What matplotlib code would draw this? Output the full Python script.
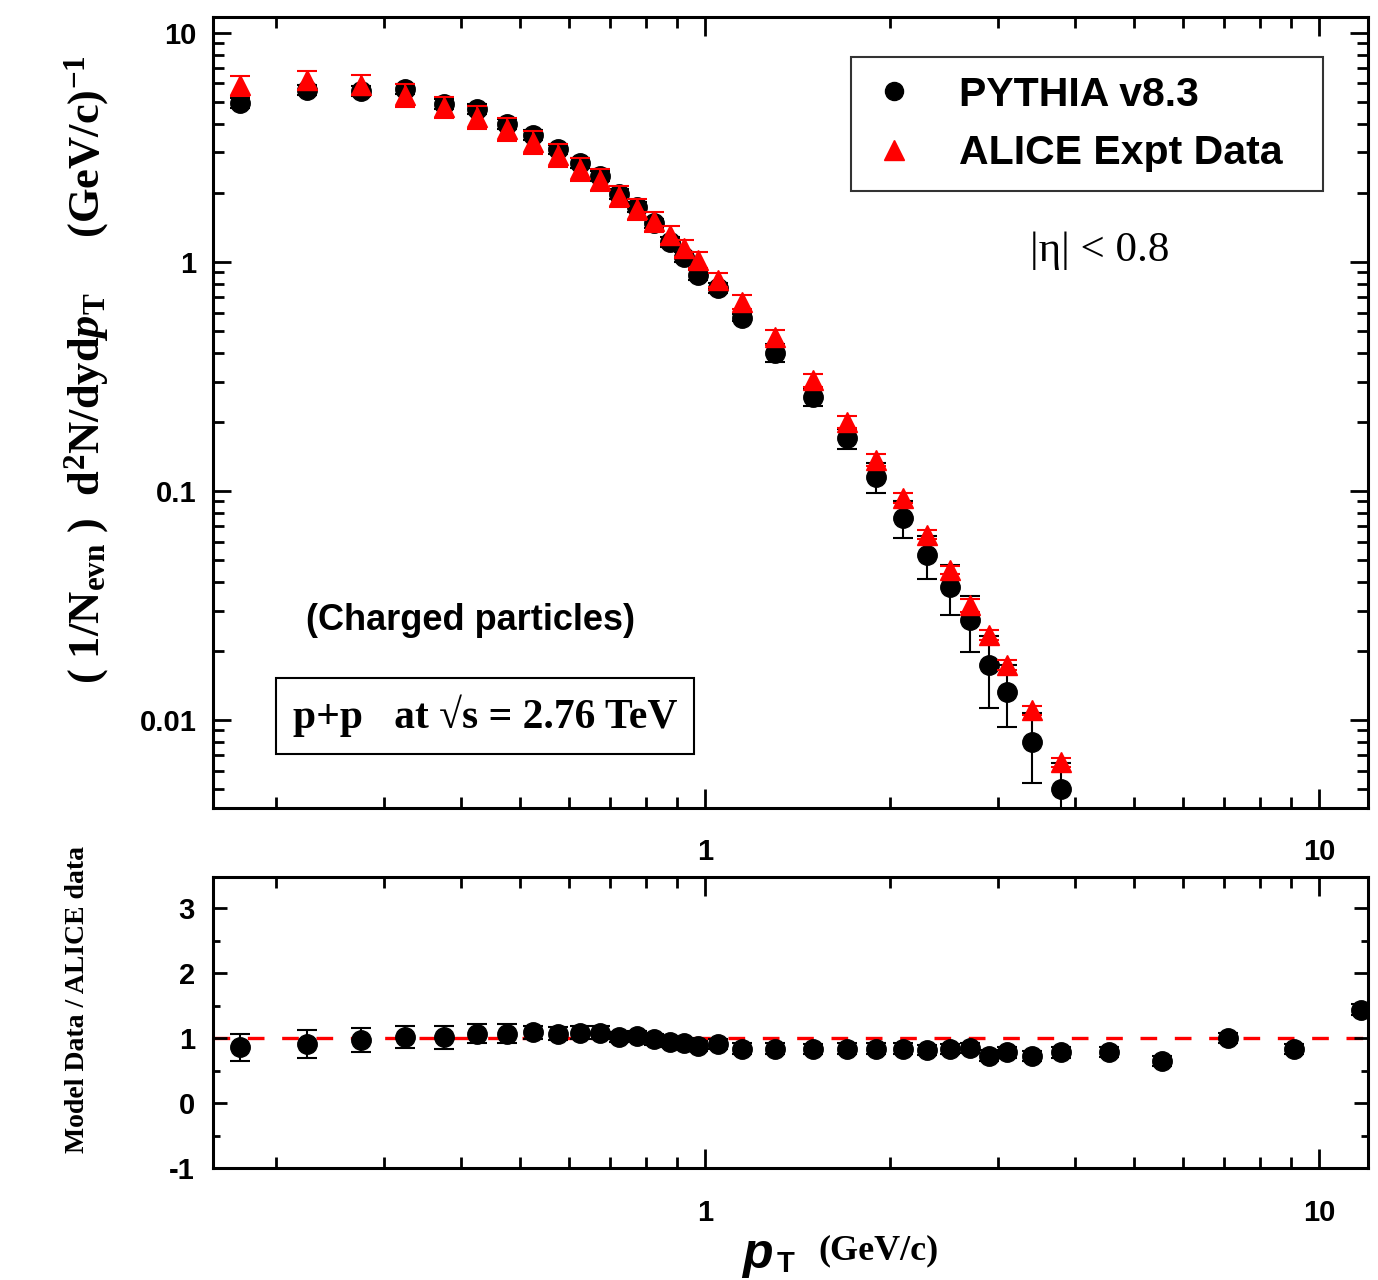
import matplotlib
matplotlib.use("Agg")
import matplotlib.pyplot as plt
import matplotlib.ticker as mticker
from matplotlib.lines import Line2D

plt.rcParams['axes.unicode_minus'] = False
plt.rcParams['mathtext.fontset'] = 'custom'
plt.rcParams['mathtext.rm'] = 'Liberation Serif:bold'
plt.rcParams['mathtext.it'] = 'Liberation Serif:bold:italic'
plt.rcParams['mathtext.bf'] = 'Liberation Serif:bold'

# pT bins (GeV/c)
pt = [0.175, 0.225, 0.275, 0.325, 0.375, 0.425, 0.475, 0.525, 0.575, 0.625,
      0.675, 0.725, 0.775, 0.825, 0.875, 0.925, 0.975, 1.05, 1.15, 1.3,
      1.5, 1.7, 1.9, 2.1, 2.3, 2.5, 2.7, 2.9, 3.1, 3.4, 3.8]

# PYTHIA v8.3 spectrum
pythia = [4.95, 5.6, 5.55, 5.68, 4.90, 4.66, 4.00, 3.59, 3.09, 2.71,
          2.37, 1.98, 1.74, 1.47, 1.22, 1.05, 0.877, 0.770, 0.570, 0.401,
          0.257, 0.170, 0.115, 0.0764, 0.0524, 0.0381, 0.0273, 0.0173, 0.0133, 0.0080, 0.0050]
pythia_err = [0.25, 0.28, 0.28, 0.28, 0.25, 0.23, 0.20, 0.18, 0.15, 0.14,
              0.12, 0.10, 0.09, 0.07, 0.06, 0.05, 0.045, 0.04, 0.02, 0.035,
              0.022, 0.017, 0.017, 0.014, 0.011, 0.0094, 0.0076, 0.006, 0.004, 0.0027, 0.0015]

# ALICE data
alice = [5.9, 6.23, 5.93, 5.36, 4.75, 4.30, 3.81, 3.34, 2.93, 2.55,
         2.28, 1.94, 1.70, 1.50, 1.31, 1.15, 1.02, 0.834, 0.669, 0.470,
         0.305, 0.200, 0.137, 0.0932, 0.0644, 0.0452, 0.0317, 0.0235, 0.0174, 0.0110, 0.00655]
alice_err = [0.6, 0.6, 0.6, 0.6, 0.5, 0.5, 0.45, 0.4, 0.35, 0.3,
             0.25, 0.2, 0.18, 0.15, 0.12, 0.1, 0.08, 0.06, 0.05, 0.035,
             0.02, 0.012, 0.008, 0.005, 0.003, 0.002, 0.002, 0.0012, 0.0008, 0.0005, 0.0003]

# ratio panel
ratio_pt = pt + [4.55, 5.55, 7.1, 9.1, 11.7]
ratio = [0.86, 0.91, 0.97, 1.02, 1.01, 1.07, 1.07, 1.09, 1.07, 1.08,
         1.08, 1.02, 1.03, 0.98, 0.94, 0.92, 0.88, 0.91, 0.84, 0.84,
         0.83, 0.84, 0.84, 0.84, 0.82, 0.83, 0.85, 0.73, 0.78, 0.72,
         0.78, 0.79, 0.65, 1.0, 0.83, 1.44]
ratio_err = [0.21, 0.21, 0.19, 0.17, 0.17, 0.15, 0.14, 0.1, 0.1, 0.1,
             0.1, 0.08, 0.08, 0.08, 0.08, 0.08, 0.08, 0.08, 0.08, 0.08,
             0.08, 0.08, 0.08, 0.08, 0.08, 0.08, 0.08, 0.08, 0.08, 0.08,
             0.08, 0.08, 0.08, 0.08, 0.08, 0.08]

sans = ['Liberation Sans', 'DejaVu Sans']
serif = ['Liberation Serif', 'DejaVu Serif']

fig = plt.figure(figsize=(13.78, 12.8), dpi=100)
ax1 = fig.add_axes([0.1546, 0.3688, 0.8381, 0.6179])
ax2 = fig.add_axes([0.1546, 0.0875, 0.8381, 0.2273])

# top panel
ax1.errorbar(pt, pythia, yerr=pythia_err, fmt='o', color='black', ms=14,
             elinewidth=1.5, capsize=7, capthick=1.5, zorder=2)
eb = ax1.errorbar(pt, alice, yerr=alice_err, fmt='^', color='red', ms=15,
                  ecolor='red', elinewidth=1.5, capsize=7, capthick=1.5, zorder=3)
for cl in eb[1]:
    cl.set_color('black')
    cl.set_zorder(4)

ax1.set_xscale('log')
ax1.set_yscale('log')
ax1.set_xlim(0.158, 12.0)
ax1.set_ylim(0.00413, 11.7)

# bottom panel
ax2.axhline(1, color='red', lw=2.4, dashes=(5, 5.3), zorder=1)
ax2.errorbar(ratio_pt, ratio, yerr=ratio_err, fmt='o', color='black', ms=14,
             elinewidth=1.5, capsize=7, capthick=1.5, zorder=2)
ax2.set_xscale('log')
ax2.set_xlim(0.158, 12.0)
ax2.set_ylim(-1, 3.48)
ax2.yaxis.set_major_locator(mticker.MultipleLocator(1))
ax2.yaxis.set_minor_locator(mticker.MultipleLocator(0.5))

fmt = mticker.FuncFormatter(lambda v, p: '%g' % v)
for ax in (ax1, ax2):
    ax.xaxis.set_major_formatter(fmt)
    ax.xaxis.set_minor_formatter(mticker.NullFormatter())
    for sp in ax.spines.values():
        sp.set_linewidth(2.2)
    ax.tick_params(which='both', direction='in', top=True, right=True, width=2)
    ax.tick_params(axis='x', which='major', length=14, pad=22)
    ax.tick_params(axis='x', which='minor', length=8)
    for lab in ax.get_xticklabels() + ax.get_yticklabels():
        lab.set_fontfamily(sans)
        lab.set_fontweight('bold')
        lab.set_fontsize(21)

ax1.yaxis.set_major_formatter(fmt)
ax1.yaxis.set_minor_formatter(mticker.NullFormatter())
ax1.tick_params(axis='y', which='major', length=13, pad=12)
ax1.tick_params(axis='y', which='minor', length=8)
ax2.tick_params(axis='y', which='major', length=10, pad=13)
ax2.tick_params(axis='y', which='minor', length=5)
for lab in ax1.get_yticklabels() + ax2.get_yticklabels():
    lab.set_fontfamily(sans)
    lab.set_fontweight('bold')
    lab.set_fontsize(21)

# legend
handles = [Line2D([], [], ls='none', marker='o', color='black', ms=13),
           Line2D([], [], ls='none', marker='^', color='red', ms=14)]
leg = ax1.legend(handles, ['PYTHIA v8.3', 'ALICE Expt Data'], loc='upper left',
                 bbox_to_anchor=(0.552, 0.7775, 0.409, 0.1715), mode='expand',
                 borderaxespad=0, frameon=True,
                 fancybox=False, edgecolor='black', handlelength=1.2,
                 handletextpad=1.0, borderpad=0.45, labelspacing=0.5,
                 prop={'family': sans, 'weight': 'bold', 'size': 29.5})
leg.get_frame().set_linewidth(1.5)

ax1.text(0.768, 0.705, r'|η| < 0.8', transform=ax1.transAxes, ha='center',
         va='center', fontsize=31, family=serif)
ax1.text(0.2225, 0.2364, '(Charged particles)', transform=ax1.transAxes,
         ha='center', va='center', fontsize=26, family=sans, weight='bold')
ax1.text(0.2355, 0.1163, 'p+p   at \u221as = 2.76 TeV', transform=ax1.transAxes,
         ha='center', va='center', fontsize=30, family=serif, weight='bold',
         bbox=dict(boxstyle='square,pad=0.4', fc='white', ec='black', lw=1.5))

# axis labels
fig.text(0.063, 0.711,
         r'( 1/N$_{\mathrm{evn}}$ )  d$^{\mathrm{2}}$N/dyd$p_{\mathrm{T}}$     (GeV/c)$^{\mathrm{-1}}$',
         rotation=90, ha='center', va='center', fontsize=32, family=serif,
         weight='bold')
fig.text(0.056, 0.219, 'Model Data / ALICE data', rotation=90, ha='center',
         va='center', fontsize=20, family=serif, weight='bold')
fig.text(0.5385, 0.0094, 'p', ha='left', va='baseline', fontsize=36,
         family=sans, weight='bold', style='italic')
fig.text(0.5635, 0.006, 'T', ha='left', va='baseline', fontsize=21,
         family=sans, weight='bold')
fig.text(0.5936, 0.016, '(GeV/c)', ha='left', va='baseline', fontsize=26,
         family=serif, weight='bold')

fig.savefig('out.png', dpi=100)
